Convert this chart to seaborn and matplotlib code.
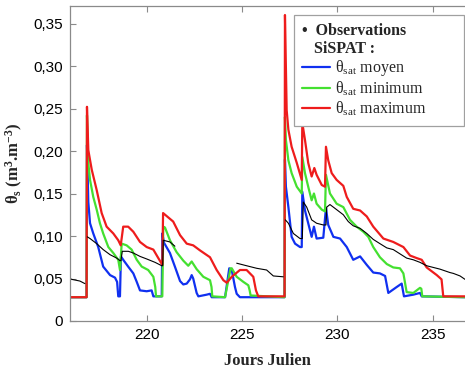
import matplotlib
matplotlib.use("Agg")
import matplotlib.pyplot as plt
import seaborn as sns
import pandas as pd
from matplotlib.lines import Line2D
from matplotlib.ticker import FuncFormatter

# ---------------- data ----------------
blue_day = [215.98, 216.85, 216.87, 216.94, 217.03, 217.20, 217.46, 217.72, 218.08, 218.34,
            218.45, 218.51, 218.60, 218.65, 218.77, 219.03, 219.30, 219.48, 219.65, 220.00,
            220.26, 220.35, 220.79, 220.82, 220.91, 221.22, 221.48, 221.75, 221.92, 222.10,
            222.27, 222.36, 222.44, 222.62, 222.71, 223.15, 223.32, 223.41, 224.11, 224.22,
            224.33, 224.46, 224.63, 224.72, 224.89, 227.23, 227.25, 227.30, 227.43, 227.60,
            227.78, 228.04, 228.13, 228.16, 228.30, 228.47, 228.65, 228.77, 228.91, 229.26,
            229.40, 229.52, 229.79, 230.14, 230.49, 230.83, 231.01, 231.19, 231.54, 231.88,
            232.23, 232.50, 232.67, 233.11, 233.37, 233.49, 233.98, 234.33, 234.42, 236.69]
blue_val = [0.028, 0.028, 0.207, 0.140, 0.115, 0.103, 0.087, 0.064, 0.054, 0.051,
            0.046, 0.029, 0.029, 0.076, 0.072, 0.064, 0.056, 0.046, 0.036, 0.035,
            0.036, 0.029, 0.029, 0.103, 0.092, 0.080, 0.064, 0.047, 0.043, 0.044,
            0.049, 0.054, 0.050, 0.033, 0.029, 0.031, 0.032, 0.028, 0.028, 0.045,
            0.062, 0.060, 0.040, 0.032, 0.028, 0.028, 0.190, 0.158, 0.134, 0.099,
            0.091, 0.087, 0.087, 0.152, 0.130, 0.115, 0.099, 0.111, 0.097, 0.098,
            0.133, 0.113, 0.099, 0.097, 0.087, 0.072, 0.074, 0.076, 0.066, 0.057,
            0.056, 0.053, 0.033, 0.040, 0.044, 0.029, 0.031, 0.033, 0.029, 0.028]

green_day = [215.98, 216.85, 216.87, 216.94, 217.03, 217.20, 217.38, 217.55, 217.72, 217.99,
             218.25, 218.51, 218.60, 218.69, 218.95, 219.21, 219.48, 219.74, 220.08, 220.35,
             220.45, 220.49, 220.82, 220.87, 220.96, 221.22, 221.57, 221.92, 222.18, 222.36,
             222.62, 222.97, 223.32, 223.40, 223.44, 224.11, 224.28, 224.40, 224.46, 224.72,
             225.07, 225.33, 225.40, 225.45, 227.23, 227.25, 227.30, 227.43, 227.60, 227.87,
             228.13, 228.16, 228.30, 228.47, 228.65, 228.77, 228.91, 229.18, 229.35, 229.40,
             229.61, 229.96, 230.31, 230.66, 231.01, 231.36, 231.62, 231.88, 232.23, 232.59,
             232.93, 233.28, 233.46, 233.63, 233.98, 234.33, 234.40, 234.45, 236.69]
green_val = [0.028, 0.028, 0.242, 0.186, 0.166, 0.146, 0.131, 0.115, 0.103, 0.087,
             0.080, 0.072, 0.060, 0.091, 0.089, 0.084, 0.072, 0.064, 0.060, 0.052,
             0.040, 0.029, 0.029, 0.111, 0.110, 0.095, 0.081, 0.071, 0.065, 0.070,
             0.061, 0.052, 0.048, 0.040, 0.029, 0.028, 0.048, 0.062, 0.062, 0.052,
             0.046, 0.042, 0.036, 0.030, 0.028, 0.240, 0.213, 0.189, 0.174, 0.158,
             0.150, 0.193, 0.174, 0.158, 0.142, 0.150, 0.138, 0.131, 0.129, 0.172,
             0.150, 0.138, 0.134, 0.119, 0.111, 0.105, 0.099, 0.087, 0.075, 0.067,
             0.063, 0.062, 0.056, 0.034, 0.033, 0.039, 0.038, 0.029, 0.028]

red_day = [215.98, 216.85, 216.87, 216.94, 217.12, 217.38, 217.64, 217.90, 218.25, 218.51,
           218.64, 218.77, 219.03, 219.30, 219.65, 220.00, 220.35, 220.61, 220.82, 220.86,
           221.39, 221.75, 222.10, 222.44, 222.80, 223.32, 223.67, 224.02, 224.20, 224.46,
           224.89, 225.24, 225.59, 225.73, 225.85, 227.23, 227.25, 227.34, 227.43, 227.60,
           227.87, 228.13, 228.16, 228.30, 228.47, 228.65, 228.79, 228.91, 229.18, 229.35,
           229.40, 229.52, 229.70, 229.96, 230.31, 230.49, 230.83, 231.19, 231.54, 231.88,
           232.41, 232.93, 233.46, 233.81, 234.16, 234.42, 234.68, 235.21, 235.46, 235.55,
           236.69]
red_val = [0.028, 0.028, 0.252, 0.201, 0.178, 0.154, 0.127, 0.111, 0.103, 0.095,
           0.089, 0.111, 0.111, 0.105, 0.093, 0.087, 0.084, 0.074, 0.066, 0.127,
           0.117, 0.101, 0.091, 0.089, 0.083, 0.075, 0.060, 0.048, 0.045, 0.052,
           0.060, 0.060, 0.052, 0.036, 0.029, 0.029, 0.360, 0.248, 0.225, 0.205,
           0.186, 0.166, 0.233, 0.213, 0.186, 0.170, 0.180, 0.172, 0.160, 0.158,
           0.205, 0.189, 0.174, 0.166, 0.159, 0.146, 0.132, 0.130, 0.123, 0.111,
           0.097, 0.093, 0.087, 0.077, 0.074, 0.072, 0.063, 0.054, 0.049, 0.029,
           0.029]

obs_day = [215.98, 216.07, 216.50, 216.76,
           216.89, 217.03, 217.38, 217.72, 218.08, 218.43, 218.60, 218.65, 218.72, 219.04,
           219.30, 219.65, 220.00, 220.44, 220.79, 220.84, 220.87, 221.22, 221.48,
           224.72, 225.24, 225.77, 226.29, 226.64, 227.16,
           227.27, 227.43, 227.69, 228.04, 228.16, 228.21, 228.39, 228.65, 228.91, 229.26,
           229.40, 229.44, 229.61, 229.96, 230.31, 230.57, 230.83, 231.19, 231.54, 231.88,
           232.23, 232.59, 232.93, 233.28, 233.63, 233.98, 234.33, 234.68, 235.38, 235.90,
           236.08, 236.43, 236.69]
obs_val = [0.050, 0.049, 0.047, 0.044,
           0.099, 0.097, 0.091, 0.084, 0.078, 0.074, 0.071, 0.071, 0.082, 0.082,
           0.080, 0.076, 0.073, 0.069, 0.065, 0.065, 0.095, 0.093, 0.088,
           0.068, 0.065, 0.062, 0.060, 0.053, 0.052,
           0.119, 0.115, 0.103, 0.097, 0.097, 0.140, 0.134, 0.119, 0.115, 0.113,
           0.113, 0.134, 0.137, 0.131, 0.125, 0.117, 0.112, 0.109, 0.103, 0.096,
           0.091, 0.086, 0.084, 0.079, 0.074, 0.072, 0.069, 0.065, 0.061, 0.057,
           0.056, 0.053, 0.049]
obs_seg = [0] * 4 + [1] * 19 + [2] * 6 + [3] * 33

series_names = ["moyen", "minimum", "maximum"]
series_labels = [r"θ$_{\rm sat}$ moyen", r"θ$_{\rm sat}$ minimum", r"θ$_{\rm sat}$ maximum"]
y_ticks = [0, 0.05, 0.10, 0.15, 0.20, 0.25, 0.30, 0.35]
x_ticks = [220, 225, 230, 235]

# ---------------- tables ----------------
sim = pd.concat([
    pd.DataFrame({"day": blue_day, "theta": blue_val, "run": "moyen"}),
    pd.DataFrame({"day": green_day, "theta": green_val, "run": "minimum"}),
    pd.DataFrame({"day": red_day, "theta": red_val, "run": "maximum"}),
], ignore_index=True)
obs = pd.DataFrame({"day": obs_day, "theta": obs_val, "seg": obs_seg})

# ---------------- style ----------------
sns.set_style("ticks")
plt.rcParams["font.family"] = ["Liberation Sans", "DejaVu Sans"]
plt.rcParams["mathtext.fontset"] = "custom"
plt.rcParams["mathtext.rm"] = "Liberation Serif"
plt.rcParams["mathtext.it"] = "Liberation Serif:italic"
plt.rcParams["mathtext.bf"] = "Liberation Serif:bold"

colors = {"moyen": "#1030f0", "minimum": "#44e030", "maximum": "#ee1c1c"}
grey = "#8a8a8a"

fig = plt.figure(figsize=(4.65, 3.69), dpi=100)
ax = fig.add_axes([70 / 465, 1 - 321 / 369, 395 / 465, 315 / 369])

sns.lineplot(data=sim, x="day", y="theta", hue="run", hue_order=series_names,
             palette=colors, estimator=None, sort=False, lw=1.6, legend=False, ax=ax)
sns.lineplot(data=obs, x="day", y="theta", units="seg", estimator=None, sort=False,
             color="black", lw=0.8, legend=False, ax=ax)

ax.set_xlim(215.98, 236.69)
ax.set_ylim(0, 0.3706)
ax.set_xticks(x_ticks)
ax.set_yticks(y_ticks)
ax.yaxis.set_major_formatter(FuncFormatter(
    lambda v, p: "0" if abs(v) < 1e-9 else f"{v:.2f}".replace(".", ",")))
ax.tick_params(direction="in", length=4, width=0.8, color=grey, labelsize=11,
               pad=5, top=True, right=False, labelcolor="black")
for side in ["left", "bottom", "top"]:
    ax.spines[side].set_color(grey)
    ax.spines[side].set_linewidth(0.9)
ax.spines["right"].set_visible(False)

ax.set_xlabel("Jours Julien", family="Liberation Serif", fontweight="bold",
              fontsize=12, labelpad=8)
ax.set_ylabel(r"θ$_{\mathbf{s}}$ (m$^{\mathbf{3}}$.m$^{\mathbf{-3}}$)",
              family="Liberation Serif", fontweight="bold", fontsize=12, labelpad=6)

# ---------------- legend ----------------
handles = [Line2D([], [], linestyle="none"), Line2D([], [], linestyle="none")] + \
          [Line2D([], [], color=colors[n], lw=1.6) for n in series_names]
labels = ["•  Observations", "SiSPAT :"] + series_labels
leg = ax.legend(handles, labels, loc="upper left",
                bbox_to_anchor=(0.567, 0.5, 0.430, 0.471), mode="expand",
                prop={"family": "Liberation Serif", "size": 11.5},
                frameon=True, fancybox=False, edgecolor="#a0a0a0", framealpha=1,
                borderpad=0.5, labelspacing=0.1, handlelength=1.75,
                handletextpad=0.3, borderaxespad=0)
leg.get_frame().set_linewidth(0.9)
texts = leg.get_texts()
texts[0].set_fontweight("bold")
texts[1].set_fontweight("bold")
rows = leg._legend_handle_box.get_children()[0].get_children()
rows[0].sep = 0
rows[0].get_children()[0].width = 0
rows[1].sep = 0
rows[1].get_children()[0].width = 8.6

fig.savefig("out.png", dpi=100)
